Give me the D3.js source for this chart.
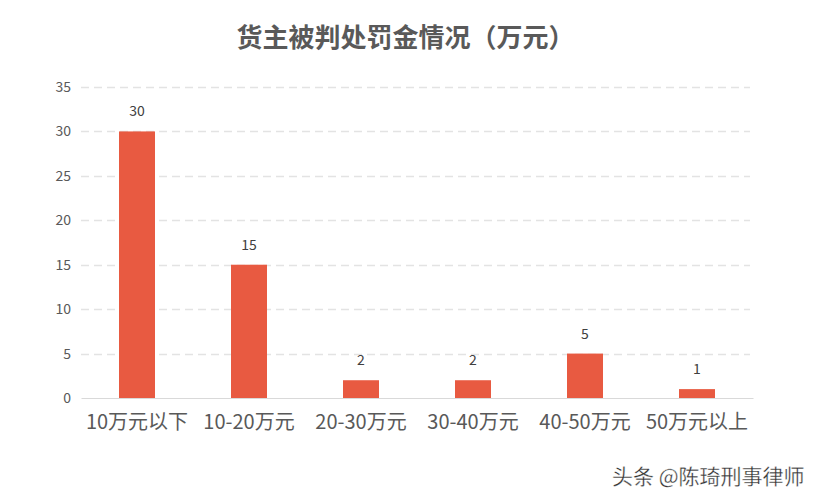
<!DOCTYPE html>
<html><head><meta charset="utf-8">
<script src="https://cdn.jsdelivr.net/npm/d3@7"></script>
<style>body{margin:0;background:#fff;}svg{display:block;}</style>
</head><body>
<svg id="c" width="817" height="501"></svg>
<script>
const title = "货主被判处罚金情况（万元）";
const categories = ["10万元以下","10-20万元","20-30万元","30-40万元","40-50万元","50万元以上"];
const values = [30, 15, 2, 2, 5, 1];
const yTicks = [0,5,10,15,20,25,30,35];
const watermark = "头条 @陈琦刑事律师";

const svg = d3.select("#c");
const font = "'Noto Sans CJK SC','Microsoft YaHei',sans-serif";
const x = d3.scaleBand().domain(categories).range([81, 753]).paddingInner(0).paddingOuter(0);
const y = d3.scaleLinear().domain([0, 35]).range([398, 87]);
const barW = 36;

// gridlines
svg.append("g").selectAll("line").data(yTicks.filter(d => d > 0)).join("line")
  .attr("x1", 81).attr("x2", 750)
  .attr("y1", d => Math.round(y(d)) + 0.5).attr("y2", d => Math.round(y(d)) + 0.5)
  .attr("stroke", "#e3e3e3").attr("stroke-width", 1.3).attr("stroke-dasharray", "8,5");

// y axis labels
const ya = svg.append("g").attr("transform", "translate(71,0)")
  .call(d3.axisLeft(y).tickValues(yTicks).tickSize(0).tickPadding(0));
ya.select(".domain").remove();
ya.selectAll("text").attr("font-family", font).attr("font-size", 14).attr("fill", "#595959");

// bars
svg.append("g").selectAll("rect").data(values).join("rect")
  .attr("x", (d, i) => x(categories[i]) + x.bandwidth() / 2 - barW / 2)
  .attr("width", barW)
  .attr("y", d => y(d)).attr("height", d => y(0) - y(d))
  .attr("fill", "#e85a41");

// value labels
svg.append("g").selectAll("text").data(values).join("text")
  .attr("x", (d, i) => x(categories[i]) + x.bandwidth() / 2)
  .attr("y", d => y(d) - 15)
  .attr("text-anchor", "middle").attr("font-family", font).attr("font-size", 14)
  .attr("fill", "#404040").text(d => d);

// x axis
const xa = svg.append("g").attr("transform", "translate(0,398)")
  .call(d3.axisBottom(x).tickSize(0).tickPadding(17));
xa.select(".domain").attr("stroke", "#d9d9d9");
xa.selectAll("text").attr("font-family", font).attr("font-size", 20).attr("fill", "#595959");

// title
svg.append("text").attr("x", 405.5).attr("y", 47).attr("text-anchor", "middle")
  .attr("font-family", font).attr("font-size", 26).attr("font-weight", "bold")
  .attr("fill", "#595959").text(title);

// watermark
svg.append("text").attr("x", 612).attr("y", 484)
  .attr("font-family", font).attr("font-size", 21)
  .attr("fill", "#333").attr("stroke", "#fff").attr("stroke-width", 0.3).text(watermark);
</script>
</body></html>
